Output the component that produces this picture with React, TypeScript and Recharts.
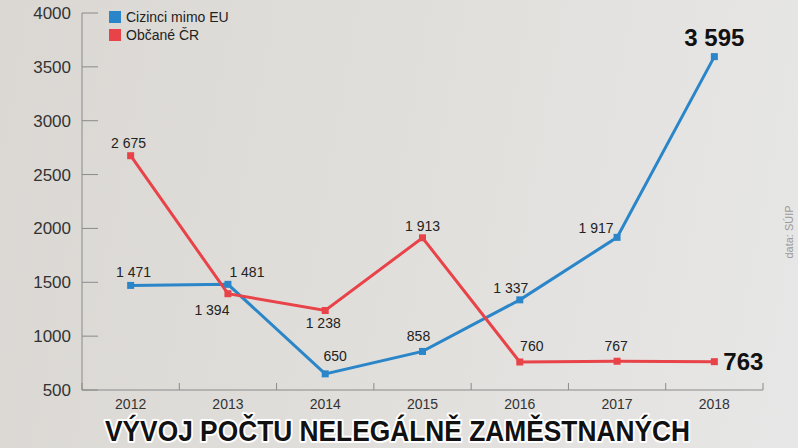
import React from 'react'
import { LineChart, Line, XAxis, YAxis } from 'recharts'

const years = ['2012', '2013', '2014', '2015', '2016', '2017', '2018']
const cizinci = [1471, 1481, 650, 858, 1337, 1917, 3595]
const obcane = [2675, 1394, 1238, 1913, 760, 767, 763]
const yTicks = [500, 1000, 1500, 2000, 2500, 3000, 3500, 4000]
const xTicks = [-0.5, 0, 0.5, 1, 1.5, 2, 2.5, 3, 3.5, 4, 4.5, 5, 5.5, 6, 6.5]
const seriesNames = ['Cizinci mimo EU', 'Občané ČR']

const BLUE = '#2a86c8'
const RED = '#e84349'
const AXIS = '#8a8a8a'
const FONT = '"Liberation Sans", Arial, sans-serif'

const data = years.map((year, i) => ({ i, year, cizinci: cizinci[i], obcane: obcane[i] }))

// label placement per point: [dx, dy] from the marker, last point is highlighted
const blueOffsets = [[3, -13], [19, -12], [10, -18], [-4, -15], [-9, -12], [-21, -9], [0, -19]]
const redOffsets = [[-2, -13], [-16, 16], [-2, 12], [0, -12], [12, -16], [-1, -15], [9, 0]]

const fmt = (v: number) =>
  v >= 1000 ? `${Math.floor(v / 1000)} ${String(v % 1000).padStart(3, '0')}` : String(v)

const makeLabel = (offsets: number[][], last: 'center' | 'start') => (props: any) => {
  const { x, y, value, index } = props
  const [dx, dy] = offsets[index]
  const isLast = index === years.length - 1
  if (isLast) {
    return (
      <text
        x={x + dx}
        y={y + dy}
        textAnchor={last === 'center' ? 'middle' : 'start'}
        dominantBaseline="central"
        fontFamily={FONT}
        fontWeight="bold"
        fontSize={24}
        fill="#111"
      >
        {fmt(value)}
      </text>
    )
  }
  return (
    <text
      x={x + dx}
      y={y + dy}
      textAnchor="middle"
      dominantBaseline="central"
      fontFamily={FONT}
      fontSize={14}
      fill="#222"
    >
      {fmt(value)}
    </text>
  )
}

const SquareDot = (color: string) => (props: any) => {
  const { cx, cy, index } = props
  if (cx == null || cy == null) return null
  return <rect key={index} x={cx - 3.5} y={cy - 3.5} width={7} height={7} fill={color} />
}

const YTick = (props: any) => {
  const { x, y, payload } = props
  return (
    <g>
      <line x1={x} y1={y} x2={x + 16} y2={y} stroke={AXIS} strokeWidth={1} />
      <text x={x - 11} y={y + 6} textAnchor="end" fontFamily={FONT} fontSize={17} fill="#333">
        {payload.value}
      </text>
    </g>
  )
}

const XTick = (props: any) => {
  const { x, y, payload } = props
  const v = payload.value
  if (!Number.isInteger(v)) {
    return <line x1={x} y1={y} x2={x} y2={y - 7} stroke={AXIS} strokeWidth={1} />
  }
  return (
    <text x={x} y={y + 19} textAnchor="middle" fontFamily={FONT} fontSize={14} fill="#333">
      {years[v]}
    </text>
  )
}

const LegendBox = () => (
  <div
    style={{
      position: 'absolute',
      left: 109,
      top: 8,
      fontFamily: FONT,
      fontSize: 14,
      color: '#222',
      lineHeight: '18px',
    }}
  >
    {[BLUE, RED].map((color, k) => (
      <div key={k} style={{ display: 'flex', alignItems: 'center' }}>
        <span style={{ width: 12, height: 12, background: color, display: 'inline-block', marginRight: 5 }} />
        {seriesNames[k]}
      </div>
    ))}
  </div>
)

export default function App() {
  return (
    <div
      style={{
        position: 'fixed',
        left: 0,
        top: 0,
        width: 798,
        height: 448,
        overflow: 'hidden',
        background: 'linear-gradient(100deg, #dbd8d4 0%, #e0deda 45%, #e7e7e7 100%)',
      }}
    >
      <LineChart width={798} height={448} data={data} margin={{ top: 13, right: 35, bottom: 0, left: 0 }}>
        <XAxis
          dataKey="i"
          type="number"
          domain={[-0.5, 6.5]}
          ticks={xTicks}
          interval={0}
          tickSize={0}
          tickMargin={0}
          tickLine={false}
          tick={<XTick />}
          axisLine={{ stroke: AXIS }}
          height={58}
        />
        <YAxis
          type="number"
          domain={[500, 4000]}
          ticks={yTicks}
          interval={0}
          tickSize={0}
          tickMargin={0}
          tickLine={false}
          tick={<YTick />}
          axisLine={{ stroke: AXIS }}
          width={82}
        />
        <Line
          dataKey="cizinci"
          name={seriesNames[0]}
          stroke={BLUE}
          strokeWidth={3}
          dot={SquareDot(BLUE)}
          activeDot={false}
          label={makeLabel(blueOffsets, 'center')}
          isAnimationActive={false}
        />
        <Line
          dataKey="obcane"
          name={seriesNames[1]}
          stroke={RED}
          strokeWidth={3}
          dot={SquareDot(RED)}
          activeDot={false}
          label={makeLabel(redOffsets, 'start')}
          isAnimationActive={false}
        />
      </LineChart>
      <LegendBox />
      <svg width={798} height={448} style={{ position: 'absolute', left: 0, top: 0, pointerEvents: 'none' }}>
        <text
          x={105}
          y={441}
          textLength={585}
          lengthAdjust="spacingAndGlyphs"
          fontFamily={FONT}
          fontWeight="bold"
          fontSize={29}
          fill="#111"
          stroke="#fff"
          strokeWidth={4}
          strokeLinejoin="round"
          style={{ paintOrder: 'stroke' }}
        >
          VÝVOJ POČTU NELEGÁLNĚ ZAMĚSTNANÝCH
        </text>
        <text
          x={0}
          y={0}
          transform="translate(793 232) rotate(-90)"
          textAnchor="middle"
          fontFamily={FONT}
          fontSize={11}
          fill="#9a9a9a"
        >
          data: SÚIP
        </text>
      </svg>
    </div>
  )
}
